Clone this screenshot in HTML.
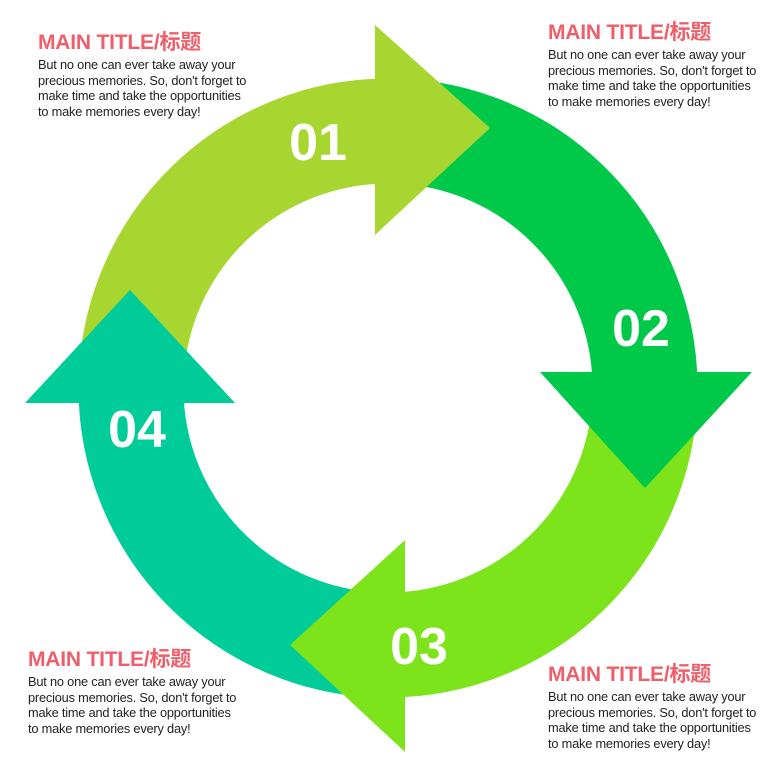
<!DOCTYPE html>
<html><head><meta charset="utf-8"><style>
body{margin:0;width:777px;height:776px;background:#fff;position:relative;overflow:hidden;font-family:"Liberation Sans","Noto Sans CJK SC",sans-serif}
.t{position:absolute;white-space:nowrap}
.t h3{margin:0 0 3px;font-size:21px;font-weight:bold;color:#ef5f6a;line-height:22px;letter-spacing:-0.2px}
.t p{margin:0;font-size:12.8px;line-height:15.5px;color:#222;letter-spacing:-0.2px}
</style></head><body>
<svg width="777" height="776" style="position:absolute;left:0;top:0">
<g fill="none" stroke-width="105">
<path d="M131 388 A257 257 0 0 1 388 131" stroke="#a8d631"/>
<path d="M380 131 A257 257 0 0 1 645 388" stroke="#00c94a"/>
<path d="M645 380 A257 257 0 0 1 388 645" stroke="#7de31a"/>
<path d="M396 645 A257 257 0 0 1 131 388" stroke="#00cc99"/>
</g>
<polygon points="375,25 490,128 375,235" fill="#a8d631"/>
<polygon points="540,372 752,372 645,488" fill="#00c94a"/>
<polygon points="405,540 405,752 290,645" fill="#7de31a"/>
<polygon points="25,403 235,403 130,290" fill="#00cc99"/>
<g fill="#fff" font-family="Liberation Sans" font-weight="bold" font-size="52" text-anchor="middle">
<text x="318" y="160">01</text>
<text x="641" y="346">02</text>
<text x="419" y="664">03</text>
<text x="137" y="447">04</text>
</g>
</svg>
<div class="t" style="left:38px;top:32px"><h3>MAIN TITLE/标题</h3><p>But no one can ever take away your<br>precious memories. So, don't forget to<br>make time and take the opportunities<br>to make memories every day!</p></div>
<div class="t" style="left:548px;top:22px"><h3>MAIN TITLE/标题</h3><p>But no one can ever take away your<br>precious memories. So, don't forget to<br>make time and take the opportunities<br>to make memories every day!</p></div>
<div class="t" style="left:28px;top:649px"><h3>MAIN TITLE/标题</h3><p>But no one can ever take away your<br>precious memories. So, don't forget to<br>make time and take the opportunities<br>to make memories every day!</p></div>
<div class="t" style="left:548px;top:664px"><h3>MAIN TITLE/标题</h3><p>But no one can ever take away your<br>precious memories. So, don't forget to<br>make time and take the opportunities<br>to make memories every day!</p></div>
</body></html>
